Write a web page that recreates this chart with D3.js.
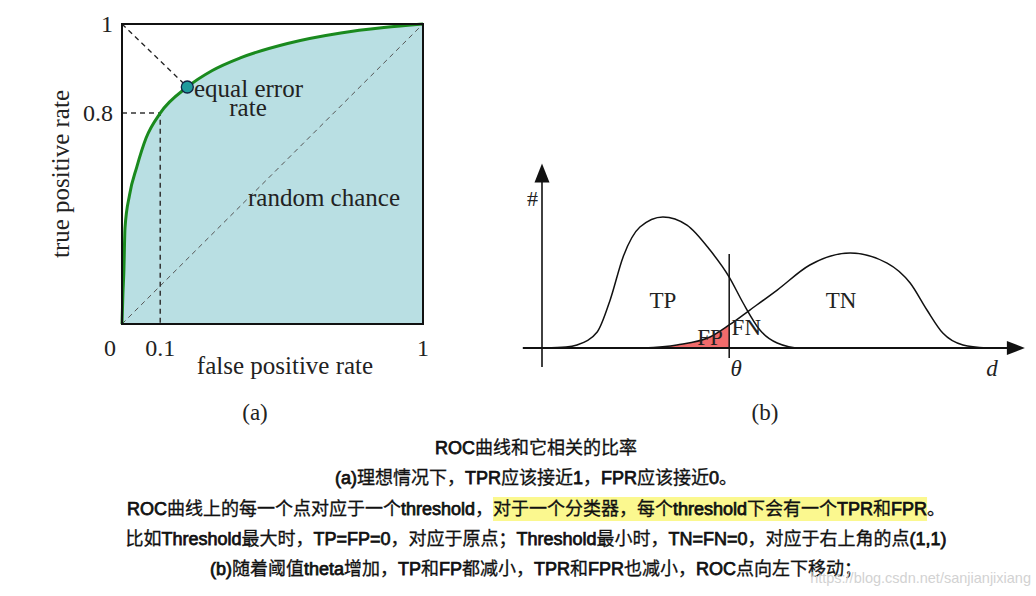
<!DOCTYPE html>
<html>
<head>
<meta charset="utf-8">
<script src="https://cdn.jsdelivr.net/npm/d3@7"></script>
<style>
  body { margin: 0; background: #fff; }
  .serif { font-family: "Liberation Serif", "DejaVu Serif", serif; fill: #222; }
  .cap { fill: #111; stroke: #111; }
  .cjk { font-family: "Noto Sans CJK SC", sans-serif; font-size: 18px; font-weight: normal; stroke-width: 0.3px; }
  .lat { font-family: "Liberation Sans", Arial, sans-serif; font-size: 18px; stroke-width: 0.75px; }
</style>
</head>
<body>
<svg id="fig" width="1036" height="596"></svg>
<script>
// (a) ROC curve (schematic units 0..1)
const rocFpr = [0, 0.003, 0.006, 0.01, 0.025, 0.049, 0.08, 0.127, 0.217, 0.3, 0.393, 0.55, 0.727, 0.87, 1]
const rocTpr = [0, 0.1, 0.17, 0.32, 0.43, 0.523, 0.62, 0.703, 0.79, 0.845, 0.887, 0.935, 0.97, 0.988, 1]
const eer = [0.217, 0.79]
const opPoint = [0.127, 0.703]
const xTicks = [0, 0.127, 1]
const xTickLabels = ["0", "0.1", "1"]
const yTicks = [0.703, 1]
const yTickLabels = ["0.8", "1"]

// (b) score distributions
const tpD = [0.6, 5, 7.3, 11.5, 14.2, 16.9, 20.4, 25.2, 30.2, 35, 39, 41.9, 45.4, 49, 53.8, 58]
const tpV = [0, 0.005, 0.017, 0.089, 0.267, 0.506, 0.672, 0.728, 0.683, 0.544, 0.394, 0.25, 0.1, 0.028, 0, 0]
const tnD = [21, 28.1, 35, 39, 43.3, 49, 55.8, 64.2, 71.9, 76.7, 80.2, 83.5, 87.7, 92.7]
const tnV = [0, 0.017, 0.061, 0.128, 0.211, 0.322, 0.461, 0.528, 0.472, 0.361, 0.211, 0.083, 0.017, 0]
const theta = 39

// caption; line 3 is split in three, the middle part is highlighted
const captionLines = [
    ["ROC曲线和它相关的比率"],
    ["(a)理想情况下，TPR应该接近1，FPR应该接近0。"],
    ["ROC曲线上的每一个点对应于一个threshold，", "对于一个分类器，每个threshold下会有一个TPR和FPR", "。"],
    ["比如Threshold最大时，TP=FP=0，对应于原点；Threshold最小时，TN=FN=0，对应于右上角的点(1,1)"],
    ["(b)随着阈值theta增加，TP和FP都减小，TPR和FPR也减小，ROC点向左下移动；"]
]

const svg = d3.select("#fig")
svg.append("rect").attr("width", 1036).attr("height", 596).attr("fill", "#fff")

// ---------- panel (a)
const x = d3.scaleLinear().domain([0, 1]).range([122, 423])
const y = d3.scaleLinear().domain([0, 1]).range([324, 24])
const roc = rocFpr.map((f, i) => [f, rocTpr[i]])

const gA = svg.append("g")

gA.append("path")
    .datum(roc)
    .attr("d", d3.area().x(d => x(d[0])).y0(y(0)).y1(d => y(d[1])).curve(d3.curveMonotoneX))
    .attr("fill", "#b9dfe3")

// random chance diagonal
gA.append("line")
    .attr("x1", x(0)).attr("y1", y(0)).attr("x2", x(1)).attr("y2", y(1))
    .attr("stroke", "#555").attr("stroke-width", 1).attr("stroke-dasharray", "5,4")

// to equal error rate
gA.append("line")
    .attr("x1", x(0)).attr("y1", y(1)).attr("x2", x(eer[0])).attr("y2", y(eer[1]))
    .attr("stroke", "#222").attr("stroke-width", 1.3).attr("stroke-dasharray", "5,4")

// 0.8 / 0.1 guides
gA.append("path")
    .attr("d", `M${x(0)},${y(opPoint[1])}H${x(opPoint[0])}V${y(0)}`)
    .attr("fill", "none").attr("stroke", "#333").attr("stroke-width", 1.5).attr("stroke-dasharray", "5,4")

gA.append("path")
    .datum(roc)
    .attr("d", d3.line().x(d => x(d[0])).y(d => y(d[1])).curve(d3.curveMonotoneX))
    .attr("fill", "none").attr("stroke", "#1a8a1e").attr("stroke-width", 3)

gA.append("rect")
    .attr("x", x(0)).attr("y", y(1)).attr("width", x(1) - x(0)).attr("height", y(0) - y(1))
    .attr("fill", "none").attr("stroke", "#111").attr("stroke-width", 2)

gA.append("circle")
    .attr("cx", x(eer[0])).attr("cy", y(eer[1])).attr("r", 6)
    .attr("fill", "#1f9a9c").attr("stroke", "#124").attr("stroke-width", 1.3)

// tick labels
gA.selectAll("text.xt").data(xTicks).enter().append("text")
    .attr("class", "serif xt")
    .attr("x", (d, i) => i == 0 ? x(d) - 12 : x(d))
    .attr("y", 356)
    .attr("text-anchor", "middle")
    .style("font-size", "24px")
    .text((d, i) => xTickLabels[i])

gA.selectAll("text.yt").data(yTicks).enter().append("text")
    .attr("class", "serif yt")
    .attr("x", 113)
    .attr("y", d => y(d) + 8)
    .attr("text-anchor", "end")
    .style("font-size", "24px")
    .text((d, i) => yTickLabels[i])

gA.append("text").attr("class", "serif")
    .attr("x", 285).attr("y", 374).attr("text-anchor", "middle")
    .style("font-size", "25px").text("false positive rate")

gA.append("text").attr("class", "serif")
    .attr("transform", "translate(69,174) rotate(-90)").attr("text-anchor", "middle")
    .style("font-size", "25px").text("true positive rate")

gA.append("text").attr("class", "serif")
    .attr("x", 194).attr("y", 97)
    .style("font-size", "25px").text("equal error")
gA.append("text").attr("class", "serif")
    .attr("x", 248).attr("y", 116).attr("text-anchor", "middle")
    .style("font-size", "25px").text("rate")
gA.append("text").attr("class", "serif")
    .attr("x", 248).attr("y", 206)
    .style("font-size", "25px").text("random chance")

gA.append("text").attr("class", "serif")
    .attr("x", 255).attr("y", 420).attr("text-anchor", "middle")
    .style("font-size", "23px").text("(a)")

// ---------- panel (b)
const xd = d3.scaleLinear().domain([0, 100]).range([542, 1022])
const yd = d3.scaleLinear().domain([0, 1]).range([348, 168])
const tp = tpD.map((d, i) => [d, tpV[i]])
const tn = tnD.map((d, i) => [d, tnV[i]])

const gB = svg.append("g")

gB.append("path")
    .datum(tn.filter(p => p[0] <= theta))
    .attr("d", d3.area().x(d => xd(d[0])).y0(yd(0)).y1(d => yd(d[1])).curve(d3.curveMonotoneX))
    .attr("fill", "#f06b6b")

const bell = d3.line().x(d => xd(d[0])).y(d => yd(d[1])).curve(d3.curveMonotoneX)
gB.selectAll("path.bell").data([tp, tn]).enter().append("path")
    .attr("class", "bell")
    .attr("d", bell)
    .attr("fill", "none").attr("stroke", "#111").attr("stroke-width", 1.5)

// axes with arrows
gB.append("line")
    .attr("x1", xd(-4)).attr("y1", yd(0)).attr("x2", xd(97)).attr("y2", yd(0))
    .attr("stroke", "#111").attr("stroke-width", 2)
gB.append("path")
    .attr("d", `M${xd(100.6)},${yd(0)}l-18,-7v14z`).attr("fill", "#111")
gB.append("line")
    .attr("x1", xd(0)).attr("y1", yd(-0.106)).attr("x2", xd(0)).attr("y2", yd(0.93))
    .attr("stroke", "#111").attr("stroke-width", 1.6)
gB.append("path")
    .attr("d", `M${xd(0)},${yd(1.025)}l-7.5,19h15z`).attr("fill", "#111")

// threshold
gB.append("line")
    .attr("x1", xd(theta)).attr("y1", yd(0.522)).attr("x2", xd(theta)).attr("y2", yd(-0.056))
    .attr("stroke", "#111").attr("stroke-width", 1.5)

const labB = [
    {t: "TP", x: 25.2, v: 0.22, a: "middle"},
    {t: "TN", x: 62.3, v: 0.22, a: "middle"},
    {t: "FP", x: 35, v: 0.015, a: "middle"},
    {t: "FN", x: 39.5, v: 0.07, a: "start"}
]
gB.selectAll("text.lab").data(labB).enter().append("text")
    .attr("class", "serif lab")
    .attr("x", d => xd(d.x)).attr("y", d => yd(d.v))
    .attr("text-anchor", d => d.a)
    .style("font-size", "23px")
    .text(d => d.t)

gB.append("text").attr("class", "serif")
    .attr("x", 527).attr("y", 206).style("font-size", "22px").text("#")
gB.append("text").attr("class", "serif")
    .attr("x", xd(theta) + 7).attr("y", 376).attr("text-anchor", "middle")
    .style("font-size", "23px").style("font-style", "italic").text("θ")
gB.append("text").attr("class", "serif")
    .attr("x", 992).attr("y", 376).attr("text-anchor", "middle")
    .style("font-size", "23px").style("font-style", "italic").text("d")
gB.append("text").attr("class", "serif")
    .attr("x", 765).attr("y", 420).attr("text-anchor", "middle")
    .style("font-size", "23px").text("(b)")

// ---------- caption
const capX = 536
const capY = [454, 484, 515, 545, 575]
const cjkRe = /[\u3000-\u9fff\uff00-\uffef]+|[^\u3000-\u9fff\uff00-\uffef]+/g

captionLines.forEach((parts, i) => {
    const t = svg.append("text").attr("class", "cap")
        .attr("x", capX).attr("y", capY[i]).attr("text-anchor", "middle")
    parts.join("").match(cjkRe).forEach(run => {
        t.append("tspan")
            .attr("class", /[\u3000-\u9fff\uff00-\uffef]/.test(run) ? "cjk" : "lat")
            .text(run)
    })
    if (parts.length > 1) {
        const node = t.node()
        const i0 = parts[0].length, i1 = parts[0].length + parts[1].length - 1
        const xs = node.getStartPositionOfChar(i0).x
        const xe = node.getEndPositionOfChar(i1).x
        svg.insert("rect", "text.cap")
            .attr("x", xs).attr("y", capY[i] - 18).attr("width", xe - xs).attr("height", 24)
            .attr("fill", "#fbf88f")
    }
})

svg.append("text")
    .attr("x", 1031).attr("y", 583).attr("text-anchor", "end")
    .style("font-family", "Liberation Sans, sans-serif").style("font-size", "14.5px")
    .attr("fill", "#d2d2d2").text("https://blog.csdn.net/sanjianjixiang")
</script>
</body>
</html>
